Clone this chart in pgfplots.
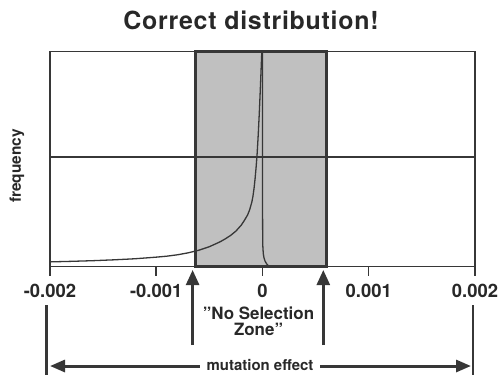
\documentclass[border=0pt]{standalone}
\usepackage{pgfplots}
\pgfplotsset{compat=1.18}
\usepackage{fontspec}
\setmainfont{TeX Gyre Heros}
\newfontfamily\titlefont[LetterSpace=3]{TeX Gyre Heros}
\usetikzlibrary{arrows.meta}
\definecolor{ink}{RGB}{55,55,55}
\definecolor{txt}{RGB}{40,40,40}
\definecolor{zone}{RGB}{192,192,192}
\begin{document}
\begin{tikzpicture}[x=1bp,y=1bp]
\path[use as bounding box] (0,0) rectangle (503,-389);
\begin{axis}[
  at={(47,-48)}, anchor=north west,
  scale only axis, width=425bp, height=215bp,
  xmin=-0.002, xmax=0.002, ymin=0, ymax=2,
  axis on top, clip=false,
  axis line style={draw=ink, line width=1.4bp},
  xtick={-0.002,-0.001,0,0.001,0.002},
  xticklabels={-0.002,-0.001,0,0.001,0.002},
  scaled x ticks=false,
  xtick pos=left,
  tick align=outside, major tick length=9bp,
  tick style={draw=ink, line width=1.4bp},
  xticklabel style={font=\bfseries\fontsize{18.5}{18.5}\selectfont, text=txt, yshift=-5bp},
  ytick=\empty,
  extra y ticks={1.02}, extra y tick labels={},
  extra y tick style={grid=major, tick style={draw=none}},
  grid style={draw=ink, line width=1.4bp},
]
\addplot[draw=ink, fill=zone, line width=2.8bp] coordinates {(-0.00063,0) (-0.00063,2) (0.0006,2) (0.0006,0)} -- cycle;
\addplot[ink, line width=1.3bp] coordinates {
(-0.0020,0.044) (-0.0018,0.049) (-0.0016,0.055) (-0.0014,0.063) (-0.0012,0.073)
(-0.0010,0.088) (-0.0009,0.097) (-0.0008,0.110) (-0.0007,0.128) (-0.0006,0.152)
(-0.0005,0.185) (-0.0004,0.230) (-0.00035,0.258) (-0.0003,0.290) (-0.00025,0.330)
(-0.0002,0.385) (-0.00017,0.43) (-0.00014,0.48) (-0.00012,0.53) (-0.00010,0.60)
(-0.00009,0.65) (-0.00008,0.72) (-0.00007,0.81) (-0.00006,0.92) (-0.00005,1.05)
(-0.00004,1.22) (-0.00003,1.42) (-0.00002,1.65) (-0.000012,1.85) (-0.000006,2.00)};
\addplot[ink, line width=1.3bp] coordinates {
(0.0000005,2.0) (0.000001,1.0) (0.0000015,0.4) (0.000003,0.2) (0.000008,0.12)
(0.000015,0.08) (0.000025,0.05) (0.00004,0.025) (0.000055,0.01) (0.00007,0.0)};
\end{axis}
\node[anchor=base, text=txt, font=\titlefont\bfseries\fontsize{25}{25}\selectfont] at (251,-29) {Correct distribution!};
\node[rotate=90, text=txt, font=\bfseries\fontsize{15.5}{16}\selectfont] at (17,-166) {frequency};
\draw[ink, line width=2.5bp, -{Triangle[length=15bp,width=13bp]}] (192.6,-345) -- (192.6,-270);
\draw[ink, line width=2.5bp, -{Triangle[length=15bp,width=13bp]}] (323.3,-345) -- (323.3,-270);
\node[anchor=base, text=txt, font=\bfseries\fontsize{17}{17}\selectfont] at (258.5,-319) {"No Selection};
\node[anchor=base, text=txt, font=\bfseries\fontsize{17}{17}\selectfont] at (258.5,-335) {Zone"};
\draw[ink, line width=2.5bp] (46.5,-305) -- (46.5,-375);
\draw[ink, line width=2.5bp] (473,-305) -- (473,-375);
\draw[ink, line width=3bp, {Triangle[length=15bp,width=12bp]}-{Triangle[length=15bp,width=12bp]}] (50,-366) -- (471,-366);
\node[fill=white, inner xsep=7bp, inner ysep=2bp, anchor=base, text=txt, font=\bfseries\fontsize{15}{15}\selectfont] at (260,-370) {mutation effect};
\end{tikzpicture}
\end{document}
